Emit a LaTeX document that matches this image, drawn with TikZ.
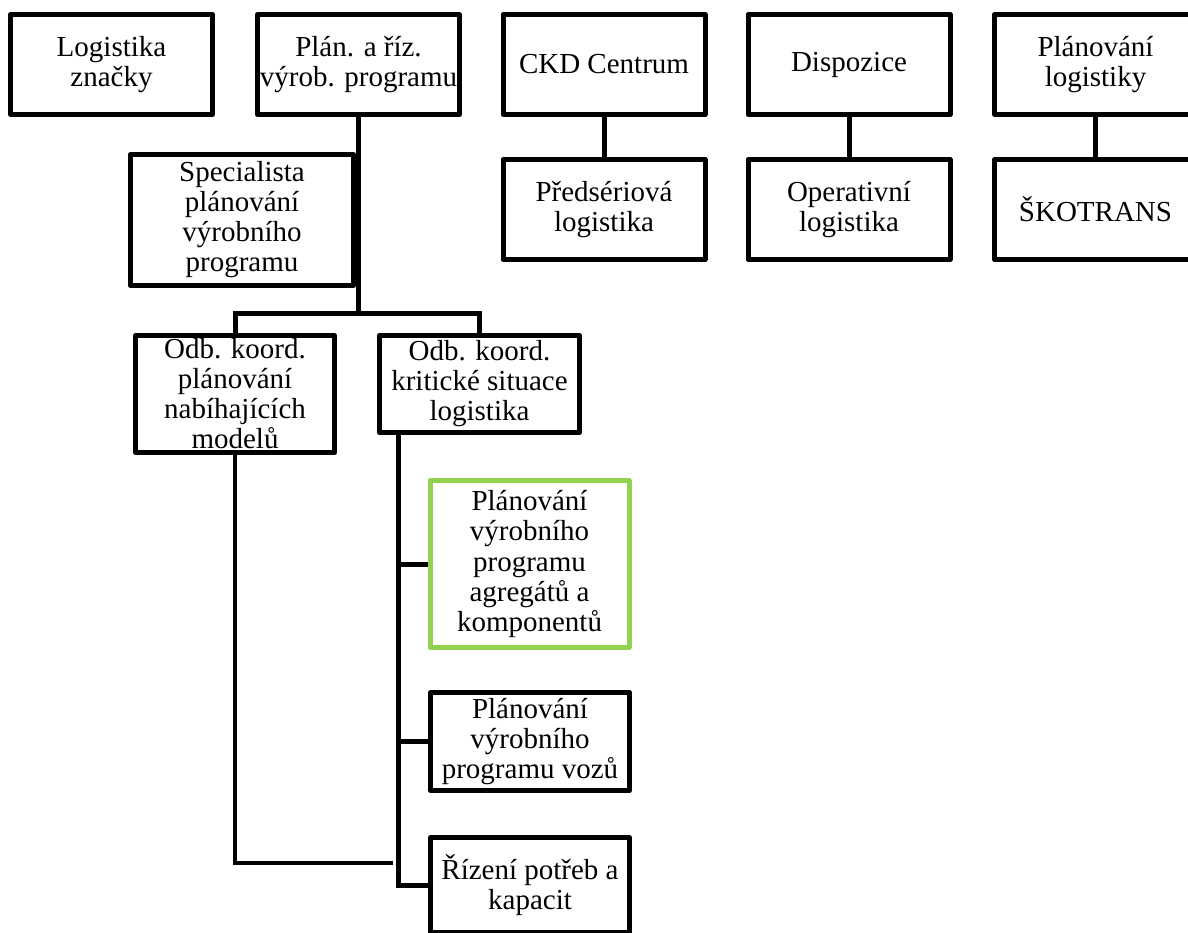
\documentclass[tikz,border=0pt]{standalone}
\usepackage{fontspec}
\setmainfont{Liberation Serif}
\definecolor{leafgreen}{HTML}{92D050}
\begin{document}
\begin{tikzpicture}[x=1pt,y=-1pt,
  box/.style={rectangle, draw=black, line width=5pt, fill=white, inner sep=0pt,
    align=center, line join=round, font=\fontsize{29}{30}\selectfont},
  rowbox/.style={box, minimum width=202pt, minimum height=100pt},
  unitbox/.style={box, minimum width=199pt},
  link/.style={draw=black, line width=5pt, line join=miter},
  thinlink/.style={draw=black, line width=3.5pt, line join=miter}]
\useasboundingbox (0,0) rectangle (1188,933);
\fill[white] (0,0) rectangle (1188,933);
\clip (0,0) rectangle (1188,933);

% top row
\node[rowbox] (logi)    at (111.5,64.5) {Logistika\\značky};
\node[rowbox] (plan)    at (358.5,64.5) {Plán. a říz.\\výrob. programu};
\node[rowbox] (ckd)     at (604,64.5)   {CKD Centrum};
\node[rowbox] (disp)    at (849,64.5)   {Dispozice};
\node[rowbox] (planlog) at (1095.5,64.5) {Plánování\\logistiky};

% second row
\node[rowbox] (pred) at (604,209.5)    {Předsériová\\logistika};
\node[rowbox] (oper) at (849,209.5)    {Operativní\\logistika};
\node[rowbox] (skot) at (1095.5,209.5) {ŠKOTRANS};

\draw[link] (ckd.south) -- (pred.north);
\draw[link] (disp.south) -- (oper.north);
\draw[link] (planlog.south) -- (skot.north);

% production programme branch
\coordinate (fork) at (358.5,313);
\draw[link] (plan.south) -- (fork);
\node[box, minimum width=223pt, minimum height=131pt] (spec) at (242,220)
  {Specialista\\plánování\\výrobního\\programu};

\node[unitbox, minimum height=117pt] (odba) at (235,394)
  {Odb. koord.\\plánování\\nabíhajících\\modelů};
\node[box, minimum width=200pt, minimum height=97pt] (odbb) at (479.5,384)
  {Odb. koord.\\kritické situace\\logistika};
\draw[link] (odba.north) |- (fork) -| (odbb.north);

% units under the critical-situation coordinator
\node[unitbox, draw=leafgreen, minimum height=167pt] (agreg) at (529.5,564)
  {Plánování\\výrobního\\programu\\agregátů a\\komponentů};
\node[unitbox, minimum height=98pt] (vozy) at (530,741.5)
  {Plánování\\výrobního\\programu vozů};
\node[unitbox, minimum height=95pt] (rizeni) at (530,885)
  {Řízení potřeb a\\kapacit};

\coordinate (spine) at (398,0);
\draw[link] (odbb.south -| spine) |- (rizeni.west);
\draw[link] (odbb.south -| spine) |- (agreg.west);
\draw[link] (odbb.south -| spine) |- (vozy.west);

\coordinate (odbaend) at (393,863);
\draw[thinlink] (odba.south) |- (odbaend);
\end{tikzpicture}
\end{document}
